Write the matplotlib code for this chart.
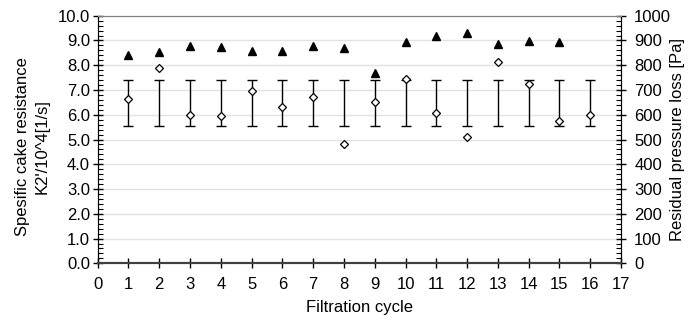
import numpy as np
import matplotlib.pyplot as plt
from matplotlib.ticker import MultipleLocator, FormatStrFormatter

plt.rcParams['font.family'] = ['Liberation Sans', 'DejaVu Sans']
plt.rcParams['font.size'] = 12

cycles = np.arange(1, 17)
cake_res = [6.62, 7.90, 5.99, 5.95, 6.97, 6.33, 6.73, 4.80,
            6.53, 7.43, 6.08, 5.09, 8.14, 7.23, 5.75, 5.99]
mean_res = 6.48
std_res = 0.93

cycles_p = np.arange(1, 16)
pressure = [841, 855, 879, 872, 859, 859, 879, 868,
            770, 895, 918, 929, 884, 899, 892]

fig = plt.figure(figsize=(6.9, 3.23), dpi=100)
ax = fig.add_axes([0.1416, 0.1848, 0.7584, 0.7666])
ax2 = ax.twinx()

# error bars around the mean, no centre marker
ax.errorbar(cycles, [mean_res] * len(cycles), yerr=std_res, fmt='none',
            ecolor='black', elinewidth=1, capsize=3.5, capthick=1, zorder=3)
ax.plot(cycles, cake_res, 'D', ms=4.5, mfc='white', mec='black', mew=0.9, zorder=4)
ax2.plot(cycles_p, pressure, '^', ms=6, color='black', zorder=4)

ax.set_xlim(0, 17)
ax.set_ylim(0, 10)
ax2.set_ylim(0, 1000)
ax.set_xticks(range(0, 18))
ax.yaxis.set_major_locator(MultipleLocator(1))
ax.yaxis.set_minor_locator(MultipleLocator(0.2))
ax.yaxis.set_major_formatter(FormatStrFormatter('%.1f'))
ax2.yaxis.set_major_locator(MultipleLocator(100))
ax2.yaxis.set_minor_locator(MultipleLocator(20))

ax.grid(axis='y', color='#e3e3e3', lw=1)
ax.set_axisbelow(True)

ax.tick_params(axis='x', direction='inout', length=7, width=1, pad=6)
ax.tick_params(axis='y', which='major', direction='inout', length=7, width=1, pad=2)
ax.tick_params(axis='y', which='minor', direction='in', length=3.5, width=0.8)
ax2.tick_params(axis='y', which='major', direction='inout', length=7, width=1, pad=6)
ax2.tick_params(axis='y', which='minor', direction='in', length=3.5, width=0.8)

for a in (ax, ax2):
    a.spines['top'].set_color('#808080')
    a.spines['bottom'].set_color('#404040')
    a.spines['bottom'].set_linewidth(1.5)

ax.set_xlabel("Filtration cycle", labelpad=6)
ax.set_ylabel("Spesific cake resistance\nK2'/10^4[1/s]", linespacing=1.35)
ax.yaxis.set_label_coords(-0.092, 0.47)
ax2.set_ylabel("Residual pressure loss [Pa]")
ax2.yaxis.set_label_coords(1.094, 0.5)

fig.savefig("out.png", dpi=100)
